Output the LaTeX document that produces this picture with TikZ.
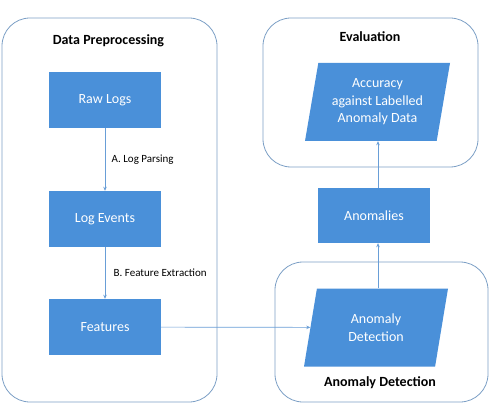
\documentclass[tikz,border=0pt]{standalone}
\usepackage{fontspec}
\setmainfont{Carlito}
\usetikzlibrary{arrows.meta,positioning,shapes.geometric}

\definecolor{boxblue}{RGB}{74,144,217}
\definecolor{groupline}{RGB}{125,160,198}
\definecolor{flowline}{RGB}{105,158,215}

\tikzset{
  group/.style={draw=groupline,line width=0.8pt,rounded corners=28pt,fill=white},
  grouptitle/.style={font=\fontsize{14}{16}\selectfont\bfseries},
  stepbox/.style={fill=boxblue,text=white,minimum width=112pt,minimum height=56pt,
    font=\fontsize{14}{17}\selectfont,inner sep=0pt},
  iobox/.style={trapezium,trapezium left angle=77.5,trapezium right angle=102.5,
    trapezium stretches=true,fill=boxblue,text=white,minimum width=145pt,
    minimum height=78pt,align=center,font=\fontsize{14}{17.5}\selectfont,inner sep=0pt},
  flow/.style={draw=flowline,line width=0.7pt,-{Stealth[length=4pt,width=3.5pt]}},
  steplabel/.style={font=\fontsize{11}{13}\selectfont,anchor=west}
}

\begin{document}
\begin{tikzpicture}[x=1pt,y=-1pt]
\useasboundingbox (0,0) rectangle (489,403);
% the three rounded groups
\node[group,minimum width=215pt,minimum height=384pt] (prep) at (109.5,210) {};
\node[group,minimum width=215pt,minimum height=149pt] (eval) at (370.5,92.5) {};
\node[group,minimum width=213pt,minimum height=140pt] (detgrp) at (381.5,332) {};
\node[grouptitle] (preptitle) at (108.5,41) {Data Preprocessing};
\node[grouptitle] (evaltitle) at (370,37) {Evaluation};
\node[grouptitle] (dettitle) at (380,383) {Anomaly Detection};
% steps
\node[stepbox] (raw) at (105,100) {Raw Logs};
\node[stepbox] (events) at (105,219) {Log Events};
\node[stepbox] (feat) at (105,327) {Features};
\node[iobox] (det) at (376,327.5) {Anomaly\\Detection};
\node[stepbox,minimum height=55pt] (anom) at (374,215.5) {Anomalies};
\node[iobox] (acc) at (377.5,102) {Accuracy\\against Labelled\\Anomaly Data};
% connectors
\draw[flow] (raw) -- node[steplabel,right=3pt] {A. Log Parsing} (events);
\draw[flow] (events) -- node[steplabel,right=5pt] {B. Feature Extraction} (feat);
\draw[flow] (feat) -- (det);
\draw[flow] ([xshift=2pt]det.north) -- ([xshift=2pt]det.north |- anom.south);
\draw[flow] ([xshift=4pt]anom.north) -- ([xshift=4pt]anom.north |- acc.south);
\end{tikzpicture}
\end{document}
